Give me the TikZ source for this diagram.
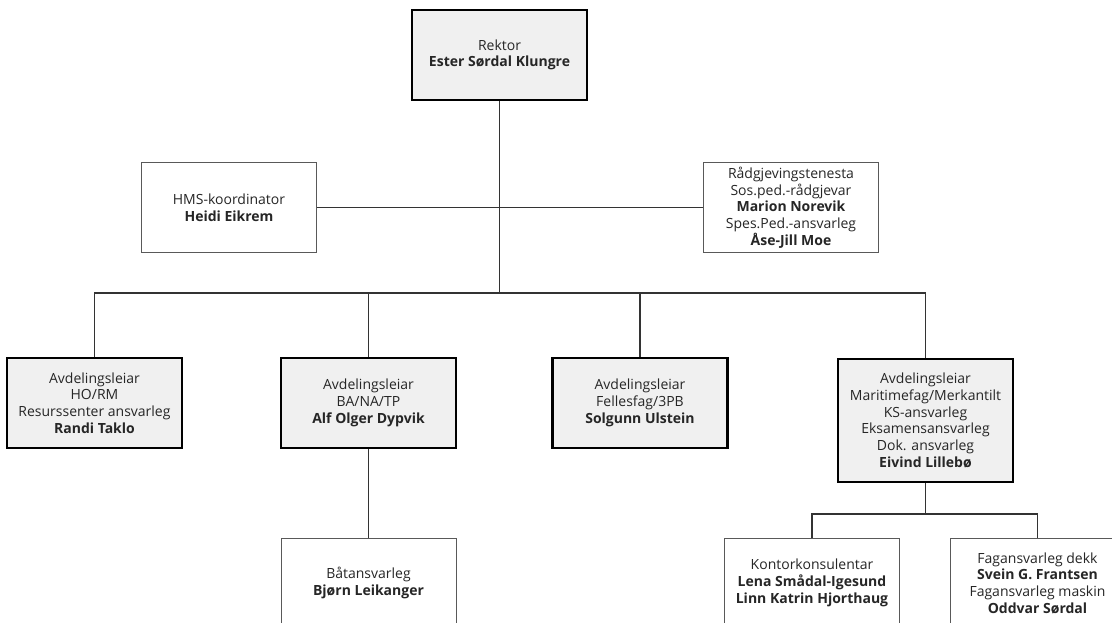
\documentclass[tikz,border=0pt]{standalone}
\usepackage{fontspec}
\setmainfont{Open Sans}
\begin{document}
\begin{tikzpicture}[x=1pt,y=-1pt,
  box/.style={rectangle, minimum width=175pt, minimum height=90pt, inner sep=0pt, align=center,
    font=\fontsize{14}{16.7}\selectfont, text=black!85},
  lead/.style={box, draw=black, line width=2.2pt, fill=black!6},
  staff/.style={box, draw=black!65, line width=1pt, fill=white},
  conn/.style={draw=black!80, line width=1.2pt}]
\useasboundingbox (0,0) rectangle (1112,623);
\fill[white] (0,0) rectangle (1112,623);
% nodes
\node[lead]  (rektor) at (499.5,55) {Rektor\\\textbf{Ester Sørdal Klungre}};
\node[staff] (hms) at (229,207.5) {HMS-koordinator\\\textbf{Heidi Eikrem}};
\node[staff] (radg) at (791,207.5) {Rådgjevingstenesta\\Sos.ped.-rådgjevar\\\textbf{Marion Norevik}\\Spes.Ped.-ansvarleg\\\textbf{Åse-Jill Moe}};
\node[lead]  (randi) at (94.5,403) {Avdelingsleiar\\HO/RM\\Resurssenter ansvarleg\\\textbf{Randi Taklo}};
\node[lead]  (alf) at (368.5,403) {Avdelingsleiar\\BA/NA/TP\\\textbf{Alf Olger Dypvik}};
\node[lead]  (solgunn) at (640,403) {Avdelingsleiar\\Fellesfag/3PB\\\textbf{Solgunn Ulstein}};
\node[lead, minimum height=123pt] (eivind) at (925.5,420.5) {Avdelingsleiar\\Maritimefag/Merkantilt\\KS-ansvarleg\\Eksamensansvarleg\\Dok. ansvarleg\\\textbf{Eivind Lillebø}};
\node[staff] (bjorn) at (368.5,583) {Båtansvarleg\\\textbf{Bjørn Leikanger}};
\node[staff] (kontor) at (812,583) {Kontorkonsulentar\\\textbf{Lena Smådal-Igesund}\\\textbf{Linn Katrin Hjorthaug}};
\node[staff] (fag) at (1037.5,583) {Fagansvarleg dekk\\\textbf{Svein G. Frantsen}\\Fagansvarleg maskin\\\textbf{Oddvar Sørdal}};
% junction coordinates
\coordinate (bus) at (499.5,293);
\coordinate (jb) at (925.5,514);
% connectors
\draw[conn] (rektor.south) -- (bus);
\draw[conn] (hms.east) -- (radg.west);
\draw[conn] (randi.north) |- (bus) -| (eivind.north);
\draw[conn] (alf.north) -- (alf.north |- bus);
\draw[conn] (solgunn.north) -- (solgunn.north |- bus);
\draw[conn] (alf.south) -- (bjorn.north);
\draw[conn] (eivind.south) -- (jb);
\draw[conn] (kontor.north) |- (jb) -| (fag.north);
\end{tikzpicture}
\end{document}
